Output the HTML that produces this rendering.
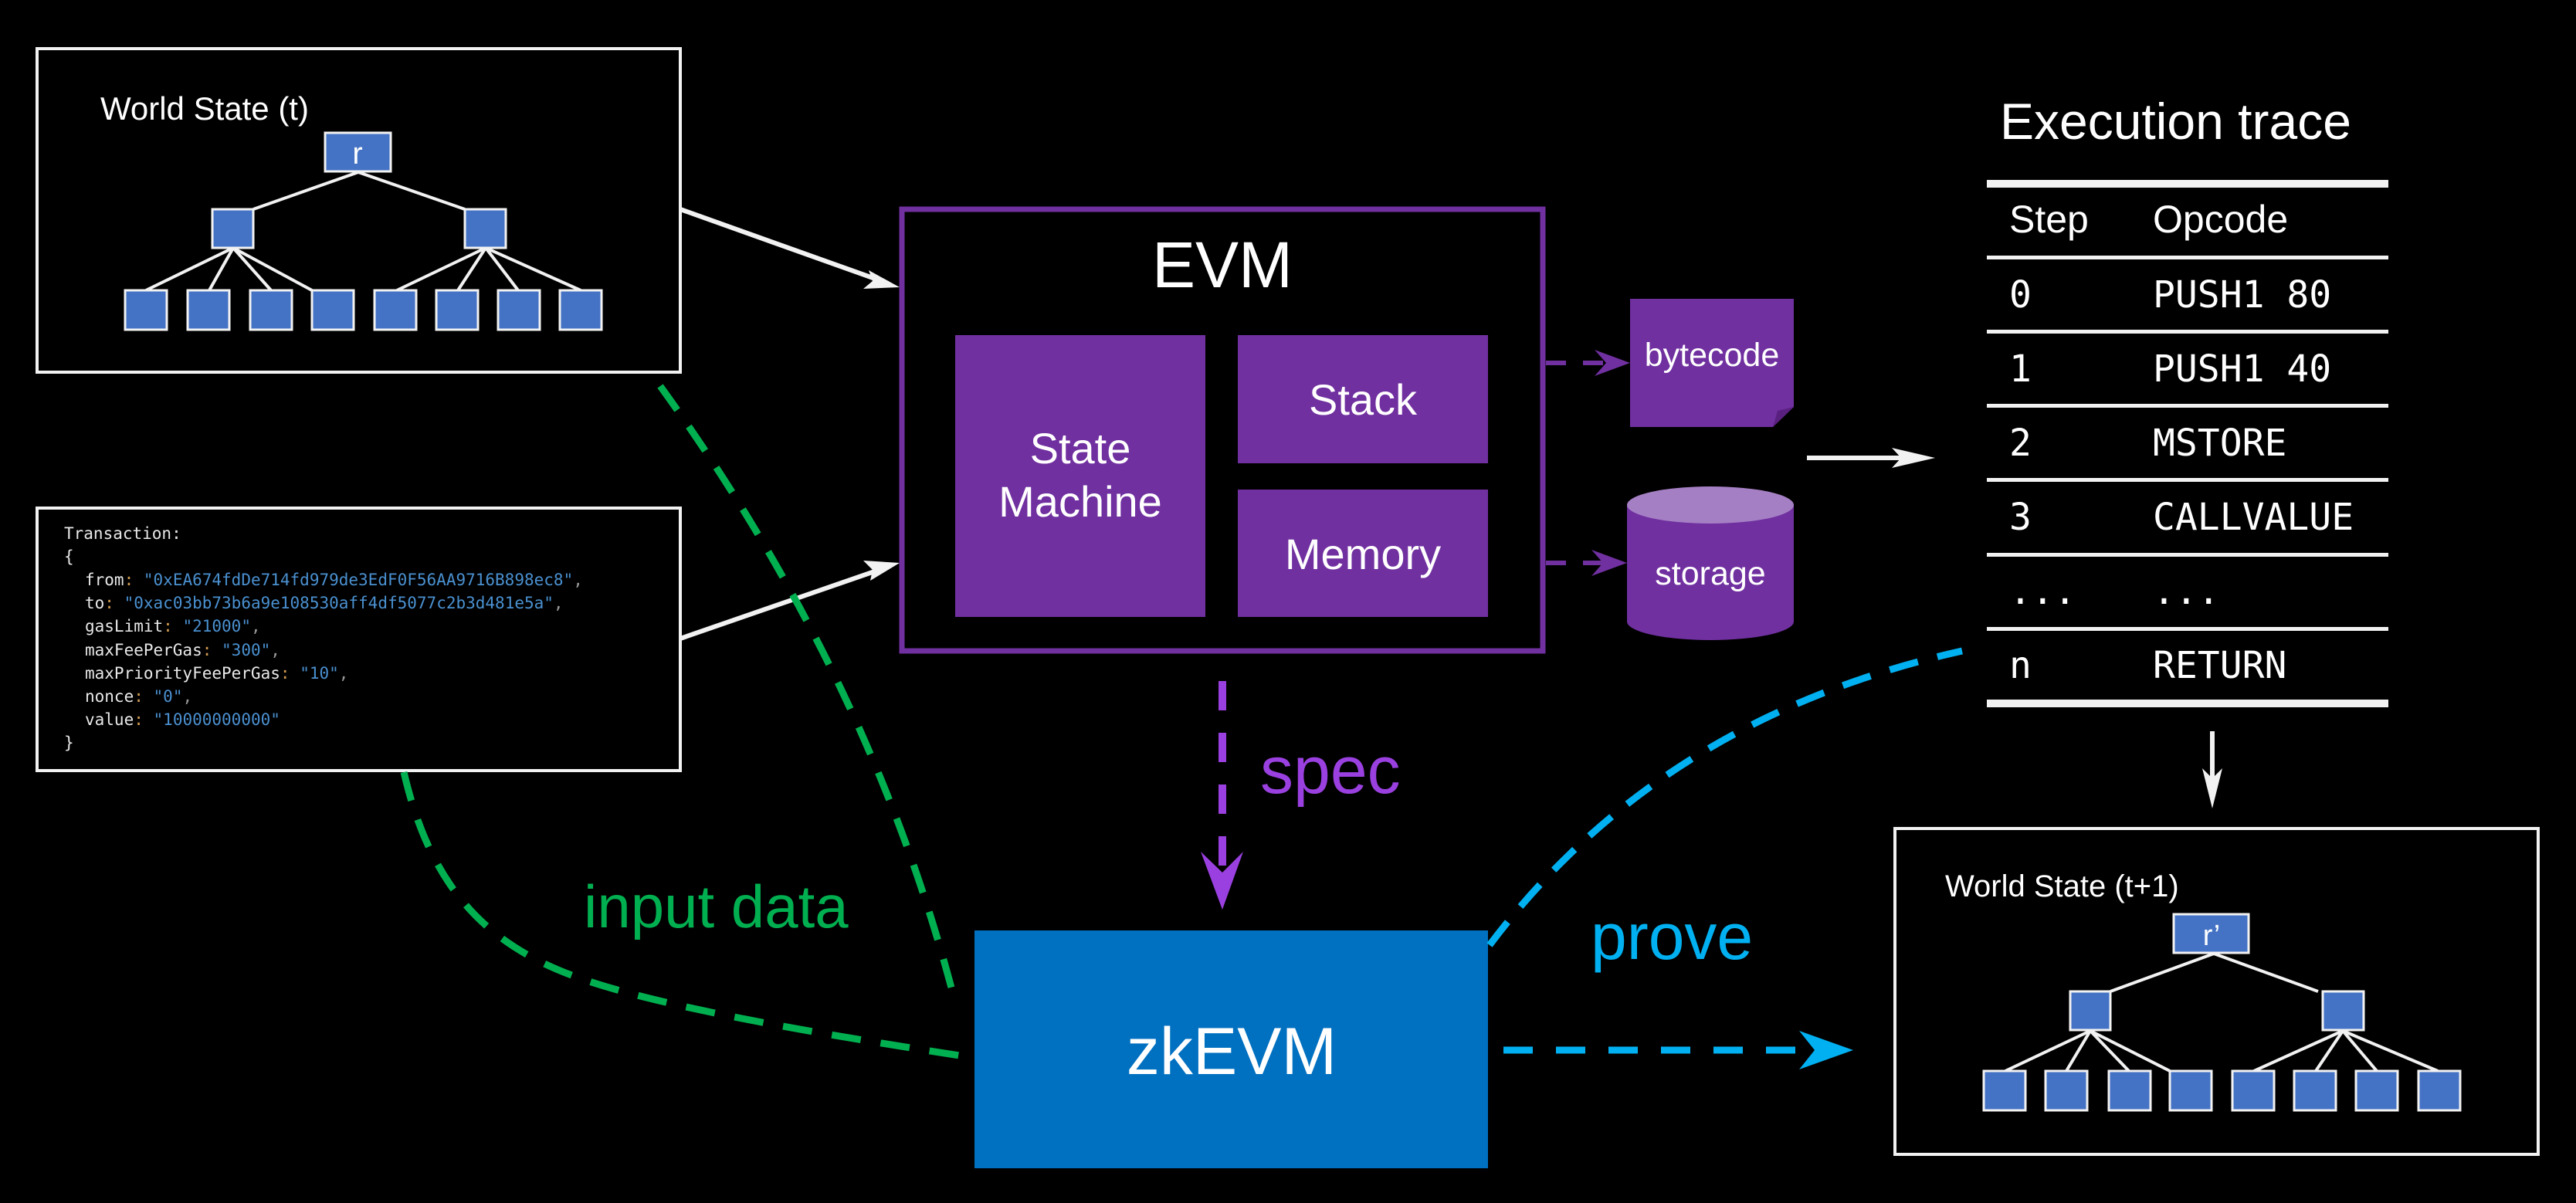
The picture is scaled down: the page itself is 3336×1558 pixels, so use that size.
<!DOCTYPE html>
<html><head><meta charset="utf-8"><style>
html,body{margin:0;padding:0;background:#000;}
svg{display:block;}
</style></head><body>
<svg width="3336" height="1558" viewBox="0 0 3336 1558" xmlns="http://www.w3.org/2000/svg" font-family="Liberation Sans, Arial, sans-serif">
<rect width="3336" height="1558" fill="#000"/>

<!-- World State (t) -->
<rect x="48" y="63" width="833" height="419" fill="none" stroke="#f2f2f2" stroke-width="4"/>
<text x="130" y="155" fill="#fff" font-size="42">World State (t)</text>
<g stroke="#f2f2f2" stroke-width="4" fill="none">
<line x1="464" y1="223" x2="328" y2="271"/><line x1="464" y1="223" x2="602" y2="271"/>
<line x1="302" y1="321" x2="189" y2="376"/><line x1="302" y1="321" x2="271" y2="376"/>
<line x1="302" y1="321" x2="351" y2="376"/><line x1="302" y1="321" x2="404" y2="376"/>
<line x1="629" y1="321" x2="514" y2="376"/><line x1="629" y1="321" x2="593" y2="376"/>
<line x1="629" y1="321" x2="671" y2="376"/><line x1="629" y1="321" x2="752" y2="376"/>
</g>
<g fill="#4472c4" stroke="#f2f2f2" stroke-width="3">
<rect x="421" y="172" width="85" height="50"/>
<rect x="275" y="271" width="53" height="50"/><rect x="602" y="271" width="53" height="50"/>
<rect x="162" y="376" width="54" height="51"/><rect x="243" y="376" width="54" height="51"/>
<rect x="324" y="376" width="54" height="51"/><rect x="404" y="376" width="54" height="51"/>
<rect x="485" y="376" width="54" height="51"/><rect x="565" y="376" width="54" height="51"/>
<rect x="645" y="376" width="54" height="51"/><rect x="725" y="376" width="54" height="51"/>
</g>
<text x="463" y="212" fill="#fff" font-size="40" text-anchor="middle">r</text>

<!-- Transaction -->
<rect x="48" y="658" width="833" height="340" fill="#000" stroke="#f2f2f2" stroke-width="4"/>
<g font-family="DejaVu Sans Mono, Liberation Mono, monospace" font-size="21" fill="#e8e8e8">
<text x="83" y="698">Transaction:</text>
<text x="83" y="728">{</text>
<text x="110" y="758">from<tspan fill="#d19a50">:</tspan> <tspan fill="#4a90d0">"0xEA674fdDe714fd979de3EdF0F56AA9716B898ec8"</tspan><tspan fill="#999">,</tspan></text>
<text x="110" y="788">to<tspan fill="#d19a50">:</tspan> <tspan fill="#4a90d0">"0xac03bb73b6a9e108530aff4df5077c2b3d481e5a"</tspan><tspan fill="#999">,</tspan></text>
<text x="110" y="818">gasLimit<tspan fill="#d19a50">:</tspan> <tspan fill="#4a90d0">"21000"</tspan><tspan fill="#999">,</tspan></text>
<text x="110" y="849">maxFeePerGas<tspan fill="#d19a50">:</tspan> <tspan fill="#4a90d0">"300"</tspan><tspan fill="#999">,</tspan></text>
<text x="110" y="879">maxPriorityFeePerGas<tspan fill="#d19a50">:</tspan> <tspan fill="#4a90d0">"10"</tspan><tspan fill="#999">,</tspan></text>
<text x="110" y="909">nonce<tspan fill="#d19a50">:</tspan> <tspan fill="#4a90d0">"0"</tspan><tspan fill="#999">,</tspan></text>
<text x="110" y="939">value<tspan fill="#d19a50">:</tspan> <tspan fill="#4a90d0">"10000000000"</tspan></text>
<text x="83" y="969">}</text>
</g>

<!-- white arrows -->
<g stroke="#f2f2f2" stroke-width="6">
<line x1="881" y1="271" x2="1150" y2="367"/>
<line x1="881" y1="827" x2="1150" y2="734"/>
<line x1="2340" y1="593" x2="2490" y2="593"/>
<line x1="2865" y1="947" x2="2865" y2="1030"/>
</g>
<g fill="#f2f2f2">
<polygon points="1165,372 1118,374 1130,364 1125,350"/>
<polygon points="1165,729 1127,752 1130,738 1118,726"/>
<polygon points="2506,593 2450,606 2462,593 2450,580"/>
<polygon points="2865,1047 2852,995 2865,1008 2878,995"/>
</g>

<!-- green dashed -->
<g stroke="#00b050" stroke-width="9" fill="none" stroke-dasharray="38,26">
<path d="M523,1000 C560,1160 640,1230 760,1270 S1100,1345 1262,1370"/>
<path d="M855,500 Q1130,880 1238,1302"/>
</g>
<text x="756" y="1201" fill="#00b050" font-size="78">input data</text>

<!-- EVM -->
<rect x="1168" y="271" width="830" height="572" fill="none" stroke="#7030a0" stroke-width="7"/>
<text x="1583" y="372" fill="#fff" font-size="84" text-anchor="middle">EVM</text>
<g fill="#7030a0">
<rect x="1237" y="434" width="324" height="365"/>
<rect x="1603" y="434" width="324" height="166"/>
<rect x="1603" y="634" width="324" height="165"/>
</g>
<g fill="#fff" font-size="56" text-anchor="middle">
<text x="1399" y="600">State</text>
<text x="1399" y="669">Machine</text>
<text x="1765" y="537">Stack</text>
<text x="1765" y="737">Memory</text>
</g>

<!-- bytecode / storage -->
<polygon points="2111,387 2323,387 2323,527 2296,553 2111,553" fill="#7030a0"/>
<polygon points="2323,527 2296,553 2302,532" fill="#5a2080"/>
<text x="2217" y="474" fill="#fff" font-size="43" text-anchor="middle">bytecode</text>
<path d="M2107,654 L2107,805 A108,24 0 0 0 2323,805 L2323,654 Z" fill="#7030a0"/>
<ellipse cx="2215" cy="654" rx="108" ry="24" fill="#a57fc4"/>
<text x="2215" y="757" fill="#fff" font-size="43" text-anchor="middle">storage</text>
<g stroke="#7030a0" stroke-width="6" stroke-dasharray="26,22">
<line x1="2002" y1="470" x2="2085" y2="470"/>
<line x1="2002" y1="729" x2="2085" y2="729"/>
</g>
<g fill="#7030a0">
<polygon points="2111,470 2065,453 2080,470 2065,487"/>
<polygon points="2107,729 2061,712 2076,729 2061,746"/>
</g>

<!-- spec -->
<line x1="1583" y1="882" x2="1583" y2="1122" stroke="#9a40e0" stroke-width="10" stroke-dasharray="38,29"/>
<polygon points="1583,1178 1555,1103 1583,1130 1610,1103" fill="#9a40e0"/>
<text x="1632" y="1027" fill="#9a40e0" font-size="86">spec</text>

<!-- zkEVM -->
<rect x="1262" y="1205" width="665" height="308" fill="#0070c0"/>
<text x="1595" y="1391" fill="#fff" font-size="86" text-anchor="middle">zkEVM</text>

<!-- blue -->
<path d="M1929,1224 Q2150,930 2541,843" stroke="#00b0f0" stroke-width="9" fill="none" stroke-dasharray="38,26"/>
<line x1="1947" y1="1360" x2="2370" y2="1360" stroke="#00b0f0" stroke-width="9" stroke-dasharray="38,30"/>
<polygon points="2400,1360 2330,1335 2350,1360 2330,1385" fill="#00b0f0"/>
<text x="2060" y="1242" fill="#00b0f0" font-size="84">prove</text>

<!-- Execution trace -->
<text x="2590" y="180" fill="#fff" font-size="66">Execution trace</text>
<g fill="#f2f2f2">
<rect x="2573" y="233" width="520" height="10"/>
<rect x="2573" y="331" width="520" height="5"/>
<rect x="2573" y="427" width="520" height="5"/>
<rect x="2573" y="523" width="520" height="5"/>
<rect x="2573" y="619" width="520" height="5"/>
<rect x="2573" y="716" width="520" height="5"/>
<rect x="2573" y="812" width="520" height="5"/>
<rect x="2573" y="906" width="520" height="10"/>
</g>
<text x="2602" y="301" fill="#fff" font-size="50">Step</text>
<text x="2788" y="301" fill="#fff" font-size="50">Opcode</text>
<g fill="#fff" font-family="DejaVu Sans Mono, Liberation Mono, monospace" font-size="48">
<text x="2602" y="398">0</text><text x="2788" y="398">PUSH1 80</text>
<text x="2602" y="494">1</text><text x="2788" y="494">PUSH1 40</text>
<text x="2602" y="590">2</text><text x="2788" y="590">MSTORE</text>
<text x="2602" y="686">3</text><text x="2788" y="686">CALLVALUE</text>
<text x="2602" y="782">...</text><text x="2788" y="782">...</text>
<text x="2602" y="878">n</text><text x="2788" y="878">RETURN</text>
</g>

<!-- World State (t+1) -->
<rect x="2454" y="1073" width="833" height="422" fill="none" stroke="#f2f2f2" stroke-width="4"/>
<text x="2519" y="1161" fill="#fff" font-size="40">World State (t+1)</text>
<g stroke="#f2f2f2" stroke-width="4">
<line x1="2867" y1="1235" x2="2733" y2="1284"/><line x1="2867" y1="1235" x2="3002" y2="1284"/>
<line x1="2707" y1="1335" x2="2597" y2="1387"/><line x1="2707" y1="1335" x2="2676" y2="1387"/>
<line x1="2707" y1="1335" x2="2757" y2="1387"/><line x1="2707" y1="1335" x2="2810" y2="1387"/>
<line x1="3034" y1="1335" x2="2919" y2="1387"/><line x1="3034" y1="1335" x2="2999" y2="1387"/>
<line x1="3034" y1="1335" x2="3078" y2="1387"/><line x1="3034" y1="1335" x2="3157" y2="1387"/>
</g>
<g fill="#4472c4" stroke="#f2f2f2" stroke-width="3">
<rect x="2815" y="1184" width="97" height="50"/>
<rect x="2681" y="1284" width="52" height="50"/><rect x="3008" y="1284" width="53" height="50"/>
<rect x="2569" y="1387" width="54" height="51"/><rect x="2649" y="1387" width="54" height="51"/>
<rect x="2731" y="1387" width="54" height="51"/><rect x="2810" y="1387" width="54" height="51"/>
<rect x="2891" y="1387" width="54" height="51"/><rect x="2971" y="1387" width="54" height="51"/>
<rect x="3051" y="1387" width="54" height="51"/><rect x="3132" y="1387" width="54" height="51"/>
</g>
<text x="2864" y="1224" fill="#fff" font-size="38" text-anchor="middle">r’</text>
</svg>
</body></html>
